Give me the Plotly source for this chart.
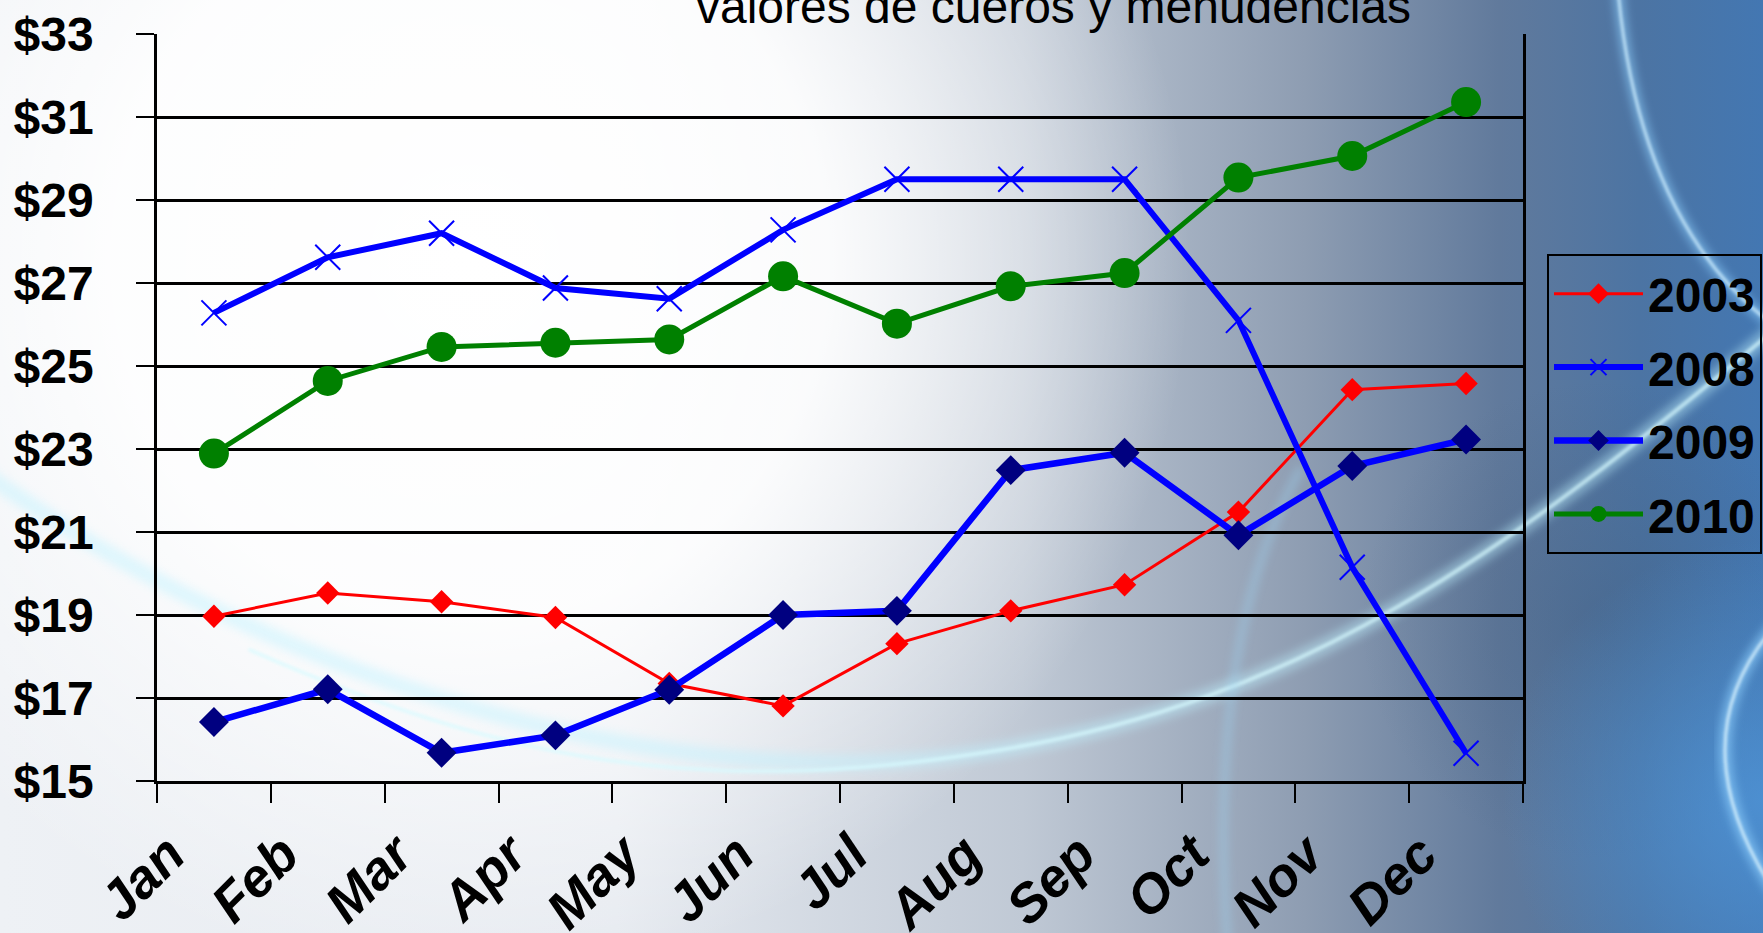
import base64
import plotly.graph_objects as go

months = ["Jan", "Feb", "Mar", "Apr", "May", "Jun", "Jul", "Aug", "Sep", "Oct", "Nov", "Dec"]
v2003 = [18.97, 19.53, 19.32, 18.94, 17.35, 16.81, 18.31, 19.10, 19.73, 21.48, 24.43, 24.58]
v2008 = [26.28, 27.62, 28.20, 26.88, 26.62, 28.28, 29.50, 29.50, 29.50, 26.10, 20.15, 15.67]
v2009 = [16.42, 17.21, 15.68, 16.10, 17.20, 19.00, 19.10, 22.49, 22.91, 20.92, 22.59, 23.23]
v2010 = [22.89, 24.64, 25.46, 25.56, 25.64, 27.16, 26.02, 26.92, 27.24, 29.54, 30.06, 31.36]
y_ticks = [15, 17, 19, 21, 23, 25, 27, 29, 31, 33]
y_ticktext = ["$" + str(v) for v in y_ticks]
title_text = "valores de cueros y menudencias"

W, H = 1763, 933
ML, MR, MT, MB = 157, 240, 34, 152
PW, PH = W - ML - MR, H - MT - MB

# decorative background (gradient + light streaks)
svg = f'''<svg xmlns="http://www.w3.org/2000/svg" width="{W}" height="{H}" viewBox="0 0 {W} {H}" preserveAspectRatio="none">
<defs>
<linearGradient id="g" x1="0" y1="0" x2="1" y2="0">
<stop offset="0" stop-color="#eef1f5"/>
<stop offset="0.35" stop-color="#e6eaf0"/>
<stop offset="0.58" stop-color="#c0c9d5"/>
<stop offset="0.74" stop-color="#8e9db2"/>
<stop offset="0.85" stop-color="#617a9c"/>
<stop offset="0.93" stop-color="#4c74a3"/>
<stop offset="1" stop-color="#4377b2"/>
</linearGradient>
<radialGradient id="w" cx="470" cy="260" r="720" gradientUnits="userSpaceOnUse">
<stop offset="0" stop-color="#ffffff" stop-opacity="1"/>
<stop offset="0.5" stop-color="#ffffff" stop-opacity="0.9"/>
<stop offset="1" stop-color="#ffffff" stop-opacity="0"/>
</radialGradient>
<radialGradient id="b" cx="1763" cy="800" r="260" gradientUnits="userSpaceOnUse">
<stop offset="0" stop-color="#4f95d8" stop-opacity="0.8"/>
<stop offset="1" stop-color="#4f95d8" stop-opacity="0"/>
</radialGradient>
<radialGradient id="d" cx="1600" cy="620" r="240" gradientUnits="userSpaceOnUse">
<stop offset="0" stop-color="#3e5878" stop-opacity="0.35"/>
<stop offset="1" stop-color="#3e5878" stop-opacity="0"/>
</radialGradient>
<filter id="f" x="-20%" y="-20%" width="140%" height="140%"><feGaussianBlur stdDeviation="5"/></filter>
<filter id="f2" x="-20%" y="-20%" width="140%" height="140%"><feGaussianBlur stdDeviation="1.5"/></filter>
</defs>
<rect width="{W}" height="{H}" fill="url(#g)"/>
<rect width="{W}" height="{H}" fill="url(#d)"/>
<rect width="{W}" height="{H}" fill="url(#w)"/>
<rect width="{W}" height="{H}" fill="url(#b)"/>
<g fill="none" stroke-linecap="round">
<path d="M -20 470 C 300 700, 700 800, 1000 750 S 1500 560, 1780 325" stroke="#bff2ff" stroke-width="16" opacity="0.45" filter="url(#f)"/>
<path d="M 250 650 C 500 760, 700 800, 1000 750 S 1500 560, 1780 325" stroke="#d8fbff" stroke-width="4" opacity="0.7" filter="url(#f2)"/>
<path d="M 1300 470 Q 1205 640 1228 950" stroke="#9fd6f5" stroke-width="6" opacity="0.5" filter="url(#f)"/>
<path d="M 1618 -10 Q 1640 230 1780 330" stroke="#8fd0ff" stroke-width="10" opacity="0.6" filter="url(#f)"/>
<path d="M 1618 -10 Q 1640 230 1780 330" stroke="#d0f0ff" stroke-width="3" opacity="0.8" filter="url(#f2)"/>
<path d="M 1780 620 Q 1670 740 1780 900" stroke="#8fd0ff" stroke-width="12" opacity="0.65" filter="url(#f)"/>
<path d="M 1780 620 Q 1670 740 1780 900" stroke="#e0f6ff" stroke-width="3" opacity="0.8" filter="url(#f2)"/>
</g>
</svg>'''
bg_src = "data:image/svg+xml;base64," + base64.b64encode(svg.encode()).decode()

fig = go.Figure()
fig.add_trace(go.Scatter(x=months, y=v2003, name="2003", mode="lines+markers", legendgroup="a",
                         line=dict(color="#ff0000", width=3),
                         marker=dict(symbol="diamond", size=18, color="#ff0000")))
fig.add_trace(go.Scatter(x=months, y=v2008, name="2008", mode="lines+markers", legendgroup="b",
                         line=dict(color="#0000ff", width=6),
                         marker=dict(symbol="x-thin", size=25, color="#0000ff",
                                     line=dict(color="#0000ff", width=2))))
fig.add_trace(go.Scatter(x=months, y=v2009, name="2009", mode="lines+markers", legendgroup="c",
                         line=dict(color="#0000ff", width=6.5),
                         marker=dict(symbol="diamond", size=23, color="#000080")))
fig.add_trace(go.Scatter(x=months, y=v2010, name="2010", mode="lines+markers", legendgroup="d",
                         line=dict(color="#008000", width=5),
                         marker=dict(symbol="circle", size=30, color="#008000")))

fig.add_layout_image(dict(source=bg_src, xref="paper", yref="paper",
                          x=-ML / PW, y=1 + MT / PH, sizex=W / PW, sizey=H / PH,
                          xanchor="left", yanchor="top", sizing="stretch", layer="below"))

fig.add_annotation(text=title_text, xref="paper", yref="paper",
                   x=(1053 - ML) / PW, y=1.0, xanchor="center", yanchor="bottom",
                   showarrow=False, borderpad=0,
                   font=dict(family="Arial, Liberation Sans, sans-serif", size=48, color="black"))

fig.update_layout(
    template="none",
    width=W, height=H,
    margin=dict(l=ML, r=MR, t=MT, b=MB, autoexpand=False),
    paper_bgcolor="white", plot_bgcolor="rgba(0,0,0,0)",
    showlegend=True,
    legend=dict(x=(1547 - ML) / PW, y=1 - (254 - MT) / PH, xanchor="left", yanchor="top",
                bgcolor="rgba(0,0,0,0)", bordercolor="black", borderwidth=2,
                font=dict(family="Arial, Liberation Sans, sans-serif", size=48, color="black", weight="bold"),
                itemwidth=89, tracegroupgap=8),
    xaxis=dict(type="category", categoryarray=months, range=[-0.5, 11.5],
               showgrid=False, zeroline=False, automargin=False,
               showline=True, linecolor="black", linewidth=3,
               ticks="outside", tickson="boundaries", ticklen=19, tickwidth=2, tickcolor="black",
               tickangle=-45, ticklabelstandoff=17, ticklabelshift=-45,
               tickfont=dict(family="Arial, Liberation Sans, sans-serif", size=54, color="black",
                             weight="bold", style="italic")),
    yaxis=dict(range=[15, 33], tickvals=y_ticks, ticktext=y_ticktext, showgrid=True,
               gridcolor="black", gridwidth=2.5, zeroline=False, automargin=False,
               showline=True, linecolor="black", linewidth=2.5, mirror=True,
               ticks="outside", ticklen=18, tickwidth=2, tickcolor="black",
               ticklabelstandoff=33,
               tickfont=dict(family="Arial, Liberation Sans, sans-serif", size=48, color="black",
                             weight="bold")),
)

fig.write_html("out.html", config={"displayModeBar": False},
               post_script="document.body.style.margin='0px';document.body.style.overflow='hidden';")
